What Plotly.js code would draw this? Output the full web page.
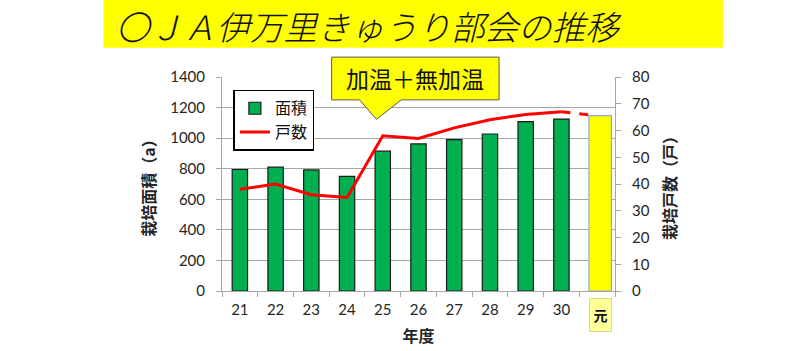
<!DOCTYPE html>
<html>
<head>
<meta charset="utf-8">
<script src="https://cdn.plot.ly/plotly-3.0.1.min.js"></script>
<style>html,body{margin:0;padding:0;background:#fff;}#chart{width:810px;height:351px;}</style>
</head>
<body>
<div id="chart"></div>
<script>
// ---- data ----
const categories = ['21','22','23','24','25','26','27','28','29','30','元'];
const areaValues = [795, 810, 792, 750, 915, 962, 990, 1027, 1108, 1125, 1147];
const householdSolidCats = ['21','22','23','24','25','26','27','28','29','30'];
const householdSolid = [38, 40, 36, 35, 58, 57, 61, 64, 66, 67];
const householdDashCats = ['30','元'];
const householdDash = [67, 65.5];
const tickLabels = ['21','22','23','24','25','26','27','28','29','30',''];
const titleText = '〇ＪＡ伊万里きゅうり部会の推移';
const calloutText = '加温＋無加温';
const legendNames = ['面積', '戸数'];
const yTitleLeft = '栽培面積（a）';
const yTitleRight = '栽培戸数（戸）';
const xTitle = '年度';
const lastLabel = '元';

const CJK = '"Noto Sans CJK JP", "Noto Sans", sans-serif';
const NUM = 'Lato, "Noto Sans", sans-serif';

const barColors = categories.map(c => c === '元' ? '#FFFF00' : '#00B050');
const barLineColors = categories.map(c => c === '元' ? '#8EA9DB' : '#1a1a1a');
const barWidths = categories.map(c => c === '元' ? 0.63 : 0.43);
const barOffsets = categories.map(c => c === '元' ? -0.23 : -0.215);

const traces = [
  {
    type: 'bar', x: categories, y: areaValues, name: legendNames[0],
    marker: {color: barColors, line: {color: barLineColors, width: 1.2}},
    width: barWidths, offset: barOffsets, legendgroup: 'a',
    hoverinfo: 'x+y'
  },
  {
    type: 'scatter', mode: 'lines', x: householdSolidCats, y: householdSolid,
    name: legendNames[1], yaxis: 'y2', legendgroup: 'b',
    line: {color: '#FF0000', width: 3}
  },
  {
    type: 'scatter', mode: 'lines', x: householdDashCats, y: householdDash,
    name: legendNames[1], yaxis: 'y2', showlegend: false,
    line: {color: '#FF0000', width: 3, dash: 'dash'}
  }
];

const layout = {
  width: 810, height: 351,
  margin: {l: 222, r: 195, t: 77, b: 60},
  paper_bgcolor: '#ffffff', plot_bgcolor: '#ffffff',
  showlegend: true,
  xaxis: {
    type: 'category', categoryorder: 'array', categoryarray: categories,
    tickvals: categories, ticktext: tickLabels,
    range: [-0.5, 10.5],
    showgrid: false, showline: true, linecolor: '#A6A6A6', linewidth: 1,
    ticks: 'outside', tickson: 'boundaries', ticklen: 5, tickcolor: '#A6A6A6',
    tickfont: {family: NUM, size: 15, color: '#262626'},
    ticklabelstandoff: 5,
    title: {text: xTitle, font: {family: CJK, size: 16, color: '#262626', weight: 'bold'}, standoff: 13},
    fixedrange: true
  },
  yaxis: {
    range: [0, 1400], dtick: 200, tick0: 0,
    showgrid: true, gridcolor: '#A6A6A6', gridwidth: 1,
    showline: true, linecolor: '#A6A6A6', linewidth: 1,
    ticks: 'outside', ticklen: 5, tickcolor: '#A6A6A6',
    tickfont: {family: NUM, size: 15, color: '#262626'},
    ticklabelstandoff: 8,
    zeroline: false,
    title: {text: yTitleLeft, font: {family: CJK, size: 16, color: '#262626', weight: 'bold'}, standoff: 10},
    fixedrange: true
  },
  yaxis2: {
    overlaying: 'y', side: 'right',
    range: [0, 80], dtick: 10, tick0: 0,
    showgrid: false, showline: true, linecolor: '#A6A6A6', linewidth: 1,
    ticks: 'outside', ticklen: 5, tickcolor: '#A6A6A6',
    tickfont: {family: NUM, size: 15, color: '#262626'},
    ticklabelstandoff: 8,
    zeroline: false,
    title: {text: yTitleRight, font: {family: CJK, size: 16, color: '#262626', weight: 'bold'}, standoff: 16},
    fixedrange: true
  },
  legend: {
    x: 0.029, y: 0.94, xanchor: 'left', yanchor: 'top',
    bgcolor: '#ffffff', bordercolor: '#000000', borderwidth: 1.5,
    font: {family: CJK, size: 16, color: '#111'},
    traceorder: 'grouped', tracegroupgap: 0,
    itemwidth: 30
  },
  shapes: [
    // title background
    {type: 'rect', xref: 'paper', yref: 'paper', x0: -0.3015, x1: 1.2745, y0: 1.137, y1: 1.36,
     fillcolor: '#FFFF00', line: {width: 0}, layer: 'below'},
    // callout
    {type: 'path', xref: 'paper', yref: 'paper',
     path: 'M 0.279 1.093 L 0.705 1.093 L 0.705 0.893 L 0.456 0.893 L 0.393 0.802 L 0.35 0.893 L 0.279 0.893 Z',
     fillcolor: '#FFFF00', line: {color: '#595959', width: 1}, layer: 'above'}
  ],
  annotations: [
    {text: titleText, xref: 'paper', yref: 'paper', x: -0.274, y: 1.241,
     xanchor: 'left', yanchor: 'middle', showarrow: false,
     font: {family: CJK, size: 33.5, color: '#111', style: 'italic', weight: 300}},
    {text: calloutText, xref: 'paper', yref: 'paper', x: 0.492, y: 0.995,
     xanchor: 'center', yanchor: 'middle', showarrow: false,
     font: {family: CJK, size: 23, color: '#111'}},
    {text: '<b>' + lastLabel + '</b>', xref: 'x', yref: 'paper', x: lastLabel, y: -0.113,
     xanchor: 'center', yanchor: 'middle', showarrow: false, xshift: 3,
     width: 19, height: 30, valign: 'middle',
     bgcolor: '#FFFF99', bordercolor: '#D9D98C', borderwidth: 1, borderpad: 1,
     font: {family: CJK, size: 14, color: '#111'}}
  ]
};

Plotly.newPlot('chart', traces, layout, {displayModeBar: false, staticPlot: true});
</script>
</body>
</html>
